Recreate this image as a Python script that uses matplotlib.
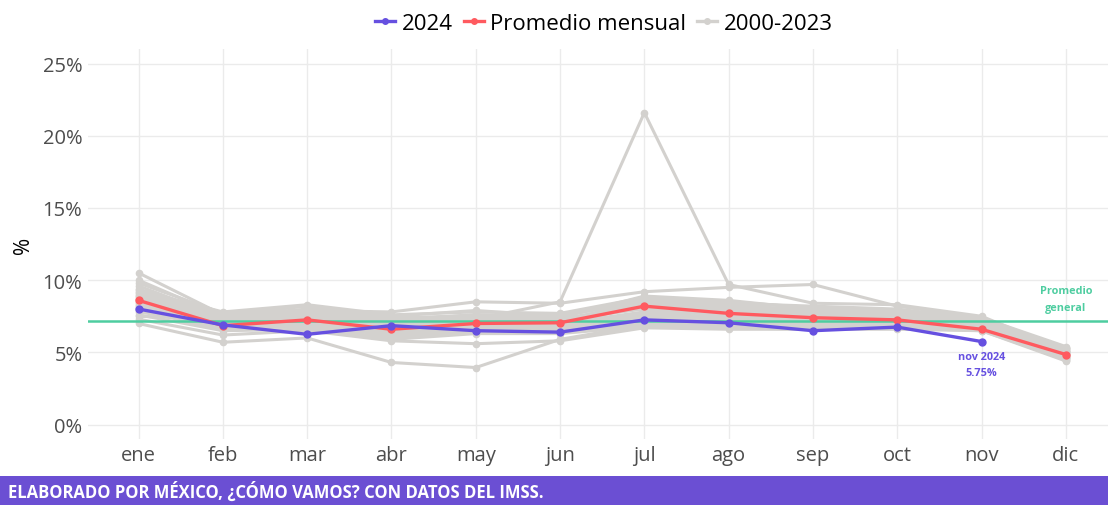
import matplotlib
matplotlib.use("Agg")
import matplotlib.pyplot as plt
from matplotlib.lines import Line2D
from matplotlib.patches import Rectangle

plt.rcParams['font.family'] = ['Open Sans', 'DejaVu Sans']

months = ["ene", "feb", "mar", "abr", "may", "jun", "jul", "ago", "sep", "oct", "nov", "dic"]

# 2024 (hasta noviembre)
vals_2024 = [8.0, 6.9, 6.25, 6.85, 6.5, 6.4, 7.25, 7.05, 6.5, 6.75, 5.75]

# promedio mensual
prom_mensual = [8.6, 6.85, 7.25, 6.6, 7.0, 7.05, 8.2, 7.7, 7.4, 7.25, 6.6, 4.85]

prom_general = 7.17

# 2000-2023
hist = [
    [10.5, 7.6, 8.2, 7.3, 7.6, 7.3, 8.3, 8.0, 7.9, 7.8, 7.2, 5.2],
    [10.0, 7.5, 8.0, 7.5, 7.9, 7.5, 8.6, 8.4, 8.2, 8.0, 7.3, 5.3],
    [9.8, 7.7, 7.9, 7.8, 8.5, 8.4, 9.2, 9.5, 9.7, 8.2, 7.4, 5.4],
    [9.6, 7.4, 7.6, 7.2, 7.3, 8.5, 21.6, 9.7, 8.4, 8.3, 7.5, 5.1],
    [9.4, 7.3, 7.5, 7.0, 7.4, 7.4, 8.9, 8.6, 8.0, 7.9, 7.1, 5.0],
    [9.2, 7.2, 7.6, 6.9, 7.2, 7.2, 8.5, 8.2, 7.8, 7.6, 7.0, 4.9],
    [9.0, 7.4, 7.3, 7.1, 7.0, 7.1, 8.1, 7.9, 7.6, 7.4, 7.2, 5.1],
    [8.9, 7.0, 7.4, 6.7, 6.9, 7.0, 7.8, 7.7, 7.5, 7.5, 6.9, 4.8],
    [8.7, 7.1, 7.2, 6.5, 7.1, 6.9, 7.6, 7.5, 7.3, 7.3, 6.8, 4.7],
    [8.6, 6.9, 7.3, 6.8, 6.8, 6.8, 7.5, 7.4, 7.2, 7.2, 6.7, 4.9],
    [8.5, 7.2, 7.0, 6.6, 7.3, 7.3, 8.0, 7.6, 7.4, 7.1, 7.0, 5.0],
    [8.4, 6.8, 7.1, 6.4, 6.9, 6.7, 7.3, 7.2, 7.1, 7.0, 6.9, 4.8],
    [8.2, 7.0, 6.9, 6.3, 6.7, 6.9, 7.2, 7.3, 7.0, 7.1, 6.8, 4.6],
    [8.1, 6.7, 6.8, 6.2, 6.6, 6.6, 7.1, 7.0, 6.9, 6.9, 6.6, 4.5],
    [7.9, 6.6, 7.2, 6.1, 6.5, 6.5, 7.0, 6.9, 6.8, 6.8, 6.7, 4.7],
    [7.8, 6.9, 6.7, 6.0, 6.4, 6.4, 6.9, 6.8, 6.7, 6.7, 6.5, 4.4],
    [7.6, 6.5, 6.6, 5.9, 6.3, 6.3, 6.8, 6.7, 6.6, 6.6, 6.5, 4.5],
    [7.5, 7.3, 7.8, 7.4, 7.5, 7.6, 8.7, 8.5, 8.1, 7.7, 7.1, 5.2],
    [7.3, 6.2, 6.5, 5.8, 5.6, 5.8, 6.7, 6.6, 6.6, 6.7, 6.6, 4.6],
    [7.0, 5.7, 6.0, 4.3, 3.95, 5.9, 6.9, 6.8, 6.7, 6.8, 6.7, 4.6],
    [9.3, 7.8, 8.3, 7.6, 7.8, 7.7, 8.8, 8.3, 7.9, 7.7, 7.3, 5.3],
    [8.8, 7.5, 7.7, 7.2, 7.6, 7.6, 8.4, 8.1, 7.7, 7.5, 7.2, 5.1],
    [9.1, 7.1, 7.5, 7.0, 7.2, 7.0, 7.7, 7.8, 7.5, 7.4, 7.0, 5.0],
    [8.3, 6.8, 7.0, 6.6, 7.0, 7.1, 7.4, 7.6, 7.3, 7.3, 6.9, 4.9],
]

GRAY = "#d3d1ce"
RED = "#ff5a5f"
BLUE = "#6650e0"
GREEN = "#4ecda0"
PURPLE = "#6b4fd3"

fig = plt.figure(figsize=(11.08, 5.06), dpi=100)
ax = fig.add_axes([0.0794, 0.1304, 0.9206, 0.7706])

x = list(range(1, 13))
for row in hist:
    ax.plot(x, row, color=GRAY, lw=2.2, marker="o", ms=4.5, zorder=2)

ax.axhline(prom_general, color=GREEN, lw=1.8, zorder=3)
ax.plot(x, prom_mensual, color=RED, lw=2.4, marker="o", ms=5, zorder=4)
ax.plot(x[:len(vals_2024)], vals_2024, color=BLUE, lw=2.4, marker="o", ms=5, zorder=5)

ann = dict(fontsize=7.8, fontweight="bold", ha="center", va="center")
ax.text(11, 4.7, "nov 2024", color=BLUE, **ann)
ax.text(11, 3.6, "5.75%", color=BLUE, **ann)
ax.text(12, 9.3, "Promedio", color=GREEN, **ann)
ax.text(12, 8.1, "general", color=GREEN, **ann)

ax.set_xlim(0.4, 12.5)
ax.set_ylim(-1.0, 26.0)
ax.set_xticks(x)
ax.set_xticklabels(months)
ax.set_yticks([0, 5, 10, 15, 20, 25])
ax.set_yticklabels([f"{v}%" for v in [0, 5, 10, 15, 20, 25]])
ax.tick_params(axis="both", length=0, labelsize=14.5, labelcolor="#4d4d4d", pad=4)
ax.set_ylabel("%", fontsize=15, color="black", labelpad=6)
ax.grid(True, color="#ebebeb", lw=1)
ax.set_axisbelow(True)
for s in ax.spines.values():
    s.set_visible(False)

handles = [
    Line2D([0], [0], color=BLUE, lw=2.4, marker="o", ms=4),
    Line2D([0], [0], color=RED, lw=2.4, marker="o", ms=4),
    Line2D([0], [0], color=GRAY, lw=2.4, marker="o", ms=4),
]
fig.legend(handles, ["2024", "Promedio mensual", "2000-2023"], loc="upper center",
           bbox_to_anchor=(0.545, 1.012), ncol=3, frameon=False, fontsize=16,
           handlelength=0.9, handletextpad=0.3, columnspacing=0.5)

fig.patches.append(Rectangle((0, 0), 1, 29 / 506, transform=fig.transFigure,
                             facecolor=PURPLE, edgecolor="none"))
fig.text(8 / 1108, 14 / 506, "ELABORADO POR MÉXICO, ¿CÓMO VAMOS? CON DATOS DEL IMSS.",
         color="white", fontsize=12, fontweight="bold", va="center", ha="left")

fig.savefig("out.png", dpi=100)
